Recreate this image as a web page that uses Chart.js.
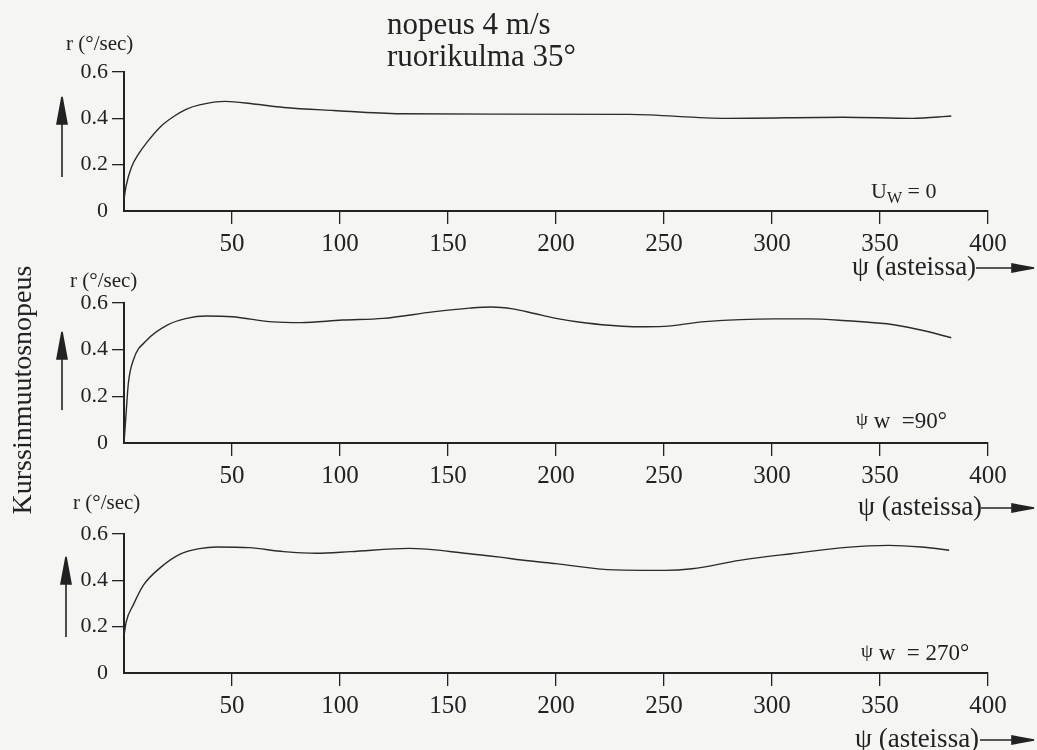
<!DOCTYPE html>
<html>
<head>
<meta charset="utf-8">
<script src="https://cdn.jsdelivr.net/npm/chart.js@4/dist/chart.umd.min.js"></script>
<style>
  body { margin: 0; background: #f5f5f4; }
  #page { position: relative; width: 1037px; height: 750px; overflow: hidden;
          font-family: "Liberation Serif", "DejaVu Serif", serif; color: #222; }
  #page canvas { position: absolute; left: 0; }
  .t { position: absolute; white-space: nowrap; line-height: 1; }
  .sub { font-size: 16px; position: relative; top: 5px; }
  .sup { font-size: 19px; position: relative; top: -3px; }
  svg { position: absolute; left: 0; top: 0; }
</style>
</head>
<body>
<div id="page">
  <canvas id="c1" width="1037" height="251" style="top:0"></canvas>
  <canvas id="c2" width="1037" height="232" style="top:251px"></canvas>
  <canvas id="c3" width="1037" height="230" style="top:483px"></canvas>

  <div class="t" style="left:387px;top:8px;font-size:31px;line-height:32px">nopeus 4 m/s<br>ruorikulma 35°</div>

  <div class="t" style="left:-128px;top:376px;font-size:28px;width:300px;text-align:center;transform:rotate(-90deg)">Kurssinmuutosnopeus</div>

  <div class="t" style="left:66px;top:33px;font-size:21px">r (°/sec)</div>
  <div class="t" style="left:70px;top:270px;font-size:21px">r (°/sec)</div>
  <div class="t" style="left:73px;top:492px;font-size:21px">r (°/sec)</div>

  <div class="t" style="left:871px;top:180px;font-size:22px">U<span class="sub">W</span> = 0</div>
  <div class="t" style="left:856px;top:409px;font-size:23px"><span class="sup">ψ</span> w&nbsp; =90°</div>
  <div class="t" style="left:861px;top:641px;font-size:23px"><span class="sup">ψ</span> w&nbsp; = 270°</div>

  <div class="t" style="left:852px;top:253px;font-size:27px">ψ (asteissa)</div>
  <div class="t" style="left:858px;top:493px;font-size:27px">ψ (asteissa)</div>
  <div class="t" style="left:855px;top:725px;font-size:27px">ψ (asteissa)</div>

  <svg width="1037" height="750">
    <g stroke="#222" stroke-width="1.6" fill="#222">
      <line x1="62" y1="120" x2="62" y2="177"/><polygon points="62,97 57,124 67,124"/>
      <line x1="62" y1="355" x2="62" y2="410"/><polygon points="62,332 57,359 67,359"/>
      <line x1="66" y1="580" x2="66" y2="637"/><polygon points="66,557 61,584 71,584"/>
      <line x1="976" y1="268" x2="1015" y2="268"/><polygon points="1034,268 1012,264 1012,272"/>
      <line x1="981" y1="508" x2="1015" y2="508"/><polygon points="1034,508 1012,504 1012,512"/>
      <line x1="980" y1="740" x2="1015" y2="740"/><polygon points="1034,740 1012,736 1012,744"/>
    </g>
  </svg>
</div>

<script>
// kulmanopeus r (°/s) kääntymiskulman ψ funktiona, kolme tuulitilannetta
const psiCalm = [0, 1, 3.5, 7, 10.5, 17, 23, 29, 35, 47, 60, 74, 97, 128, 174, 234, 279, 333, 365, 383];
const rCalm   = [0.05, 0.11, 0.19, 0.25, 0.295, 0.365, 0.408, 0.44, 0.458, 0.473, 0.462, 0.447, 0.434, 0.42, 0.418, 0.417, 0.40, 0.405, 0.40, 0.41];

const psiWind90 = [0, 1, 2, 4.3, 10.5, 20, 29, 38, 50, 69, 82, 101, 120, 143, 160, 170, 180, 190, 200, 214, 238, 250, 269, 301, 317, 333, 357, 371, 383];
const rWind90   = [0, 0.13, 0.255, 0.355, 0.44, 0.505, 0.534, 0.544, 0.541, 0.519, 0.516, 0.527, 0.534, 0.562, 0.578, 0.583, 0.575, 0.555, 0.534, 0.514, 0.498, 0.50, 0.52, 0.532, 0.532, 0.525, 0.506, 0.48, 0.451];

const psiWind270 = [0, 1, 4.3, 9, 17, 26, 35, 43, 58, 74, 89, 105, 132, 159, 174, 184, 200, 227, 250, 263, 285, 309, 333, 354, 369, 382];
const rWind270   = [0.16, 0.22, 0.294, 0.379, 0.456, 0.513, 0.537, 0.544, 0.541, 0.524, 0.517, 0.524, 0.538, 0.516, 0.50, 0.488, 0.472, 0.445, 0.443, 0.45, 0.486, 0.515, 0.541, 0.551, 0.544, 0.53];

const xTicks = [50, 100, 150, 200, 250, 300, 350, 400];
const yTicks = [0, 0.2, 0.4, 0.6];
const yTickLabels = ['0', '0.2', '0.4', '0.6'];

const serif = '"Liberation Serif", "DejaVu Serif", serif';
const ink = '#222';

function makeChart(id, psi, r, padTop) {
  return new Chart(document.getElementById(id), {
    type: 'line',
    data: {
      datasets: [{
        data: psi.map((x, i) => ({ x, y: r[i] })),
        borderColor: '#2b2b2b', borderWidth: 1.4,
        pointRadius: 0, fill: false,
        cubicInterpolationMode: 'monotone'
      }]
    },
    options: {
      responsive: false, animation: false, devicePixelRatio: 1,
      layout: { padding: { top: padTop, right: 49, left: 0, bottom: 0 } },
      plugins: { legend: { display: false }, tooltip: { enabled: false } },
      scales: {
        x: {
          type: 'linear', min: 0, max: 400,
          afterBuildTicks: s => { s.ticks = xTicks.map(v => ({ value: v })); },
          afterFit: s => { s.height = 40; },
          ticks: { font: { family: serif, size: 25 }, color: ink, padding: 5, maxRotation: 0, autoSkip: false },
          grid: { drawOnChartArea: false, tickLength: 13, color: ink, lineWidth: 1.3 },
          border: { color: ink, width: 2 }
        },
        y: {
          min: 0, max: 0.6,
          afterBuildTicks: s => { s.ticks = yTicks.map(v => ({ value: v })); },
          afterFit: s => { s.width = 124; },
          ticks: { font: { family: serif, size: 22 }, color: ink, padding: 4,
                   callback: (v, i) => yTickLabels[i] },
          grid: { drawOnChartArea: false, tickLength: 12, lineWidth: 1.3,
                  color: c => (c.tick && c.tick.value === 0) ? 'rgba(0,0,0,0)' : ink },
          border: { color: ink, width: 2 }
        }
      }
    }
  });
}

makeChart('c1', psiCalm, rCalm, 72);
makeChart('c2', psiWind90, rWind90, 52);
makeChart('c3', psiWind270, rWind270, 51);
</script>
</body>
</html>
